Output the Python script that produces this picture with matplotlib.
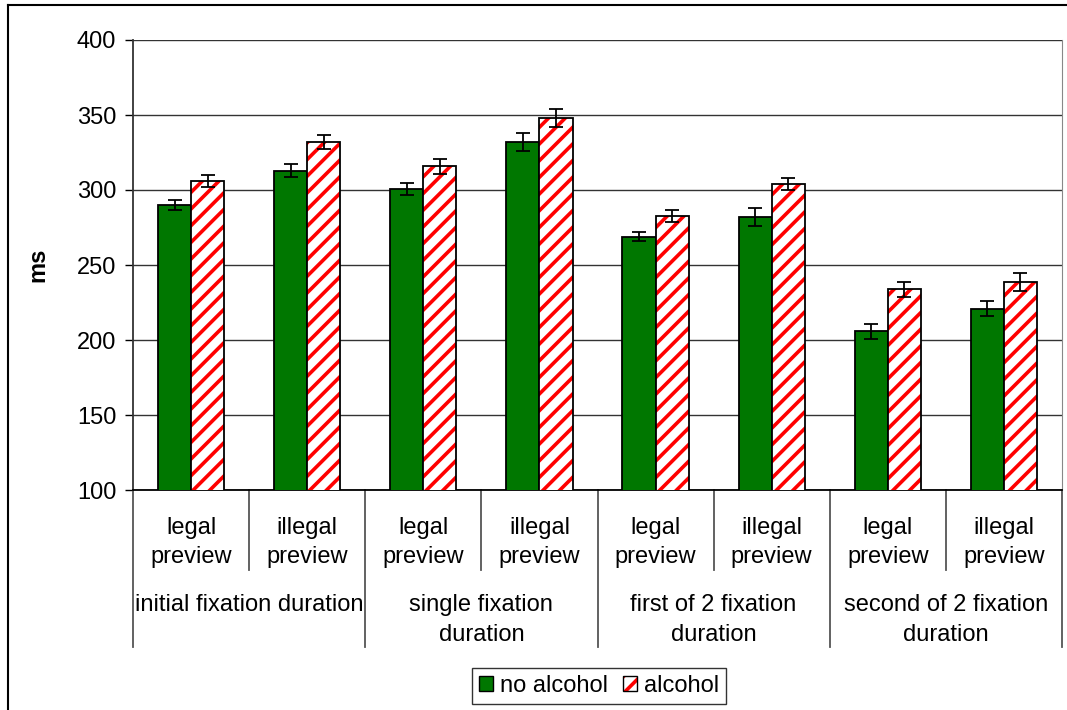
import matplotlib
matplotlib.use("Agg")
import matplotlib.pyplot as plt
from matplotlib.patches import Patch
from matplotlib.lines import Line2D
import numpy as np

plt.rcParams['font.family'] = ['Liberation Sans', 'DejaVu Sans']
plt.rcParams['hatch.linewidth'] = 2.6

# --- data ---
groups = ["initial fixation duration", "single fixation\nduration",
          "first of 2 fixation\nduration", "second of 2 fixation\nduration"]
conditions = ["legal\npreview", "illegal\npreview"]
series_names = ["no alcohol", "alcohol"]
no_alcohol = [290, 313, 301, 332, 269, 282, 206, 221]
alcohol = [306, 332, 316, 348, 283, 304, 234, 239]
no_alcohol_err = [3.5, 4.5, 4, 6, 3, 6, 5, 5]
alcohol_err = [4, 4.5, 5, 6, 4, 4, 5, 6]
yticks = [100, 150, 200, 250, 300, 350, 400]

W, H = 1067, 710
fig = plt.figure(figsize=(W / 100, H / 100), dpi=100)
ax = fig.add_axes([133 / W, (H - 490) / H, (1062 - 133) / W, 450 / H])

n = len(no_alcohol)
x = np.arange(n)
bw = 0.285
green = "#007700"

ax.bar(x - bw / 2, no_alcohol, bw, color=green, edgecolor="black",
       linewidth=1.3, zorder=3)
ax.bar(x + bw / 2, alcohol, bw, color="white", edgecolor="#ff0000", hatch="//",
       linewidth=0, zorder=3)
ax.bar(x + bw / 2, alcohol, bw, color="none", edgecolor="black",
       linewidth=1.3, zorder=4)
ax.errorbar(x - bw / 2, no_alcohol, yerr=no_alcohol_err, fmt="none",
            ecolor="black", elinewidth=1.3, capsize=5, capthick=1.3, zorder=5)
ax.errorbar(x + bw / 2, alcohol, yerr=alcohol_err, fmt="none",
            ecolor="black", elinewidth=1.3, capsize=5, capthick=1.3, zorder=5)

ax.set_xlim(-0.5, n - 0.5)
ax.set_ylim(100, 400)
ax.set_yticks(yticks)
ax.tick_params(axis="y", labelsize=17, length=6, width=1, direction="out", pad=6)
ax.set_xticks([])
ax.yaxis.grid(True, color="#333333", linewidth=1)
ax.set_axisbelow(True)
ax.spines["top"].set_visible(False)
ax.spines["right"].set_color("#888888")
ax.spines["left"].set_color("#333333")
ax.spines["bottom"].set_color("black")
ax.spines["left"].set_linewidth(1.3)
ax.spines["bottom"].set_linewidth(1.3)
ax.set_ylabel("ms", fontsize=17, fontweight="bold", labelpad=20)

# hierarchical category axis
trans = ax.get_xaxis_transform()
for k in range(n + 1):
    xb = k - 0.5
    low = -157 / 450 if k % 2 == 0 else -80 / 450
    ax.add_line(Line2D([xb, xb], [0, low], transform=trans, color="#555555",
                       linewidth=1.3, clip_on=False))
for i in range(n):
    ax.text(i, -52.5 / 450, conditions[i % 2], transform=trans, ha="center",
            va="center", fontsize=17, linespacing=1.45)
for g, name in enumerate(groups):
    ax.text(2 * g + 0.5, -104 / 450, name, transform=trans, ha="center",
            va="top", fontsize=17, linespacing=1.45)

# legend
h1 = Patch(facecolor=green, edgecolor="black", linewidth=1)
h2a = Patch(facecolor="white", edgecolor="#ff0000", hatch="//", linewidth=0)
h2b = Patch(facecolor="none", edgecolor="black", linewidth=1)
leg = fig.legend([h1, (h2a, h2b)], series_names, loc="center",
                 bbox_to_anchor=(599 / W, (H - 686) / H), ncol=2, fontsize=17,
                 frameon=True, fancybox=False, edgecolor="black",
                 handlelength=0.6, handleheight=0.6, handletextpad=0.3,
                 columnspacing=0.6, borderpad=0.3, borderaxespad=0)
leg.get_frame().set_linewidth(1)

# outer frame (top and left edges)
fig.add_artist(Line2D([8 / W, 1], [1 - 5 / H, 1 - 5 / H], color="black",
                      linewidth=1.5, transform=fig.transFigure))
fig.add_artist(Line2D([8 / W, 8 / W], [0, 1 - 5 / H], color="black",
                      linewidth=1.5, transform=fig.transFigure))

fig.savefig("out.png", dpi=100)
